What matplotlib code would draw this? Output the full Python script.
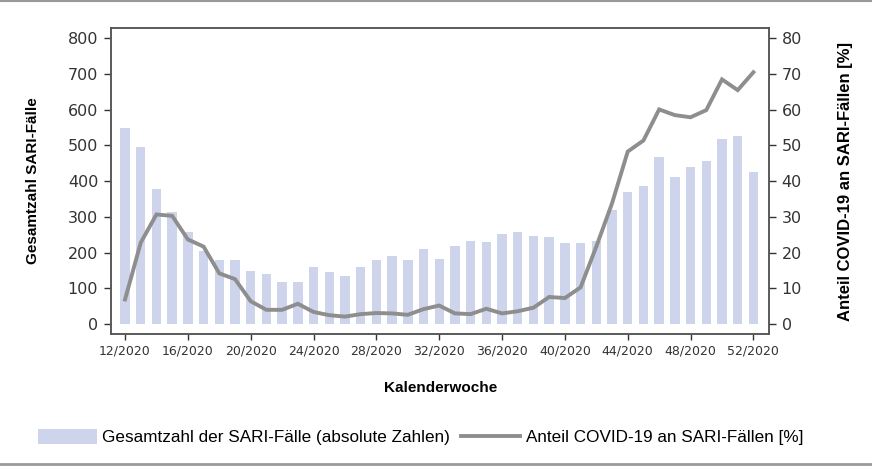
import matplotlib.pyplot as plt
from matplotlib.patches import Patch
from matplotlib.lines import Line2D

# Kalenderwochen 12/2020 bis 52/2020
wochen = list(range(12, 53))
sari_faelle = [550, 497, 379, 313, 257, 204, 179, 179, 149, 141,
               117, 117, 161, 146, 134, 161, 179, 192, 180, 210,
               183, 218, 232, 231, 251, 257, 246, 245, 226, 228,
               232, 319, 369, 388, 468, 412, 440, 456, 518, 527,
               425]
covid_anteil = [6.9, 22.8, 30.7, 30.3, 23.7, 21.7, 14.2, 12.6, 6.4, 4.0,
                4.0, 5.7, 3.4, 2.5, 2.1, 2.8, 3.1, 3.0, 2.6, 4.2,
                5.2, 3.0, 2.8, 4.3, 3.0, 3.6, 4.6, 7.6, 7.3, 10.3,
                21.7, 33.8, 48.3, 51.4, 60.1, 58.5, 57.9, 59.9, 68.5, 65.5,
                70.5]
tick_wochen = list(range(12, 53, 4))
tick_labels = [f"{w}/2020" for w in tick_wochen]

bar_farbe = '#cdd4ec'
linien_farbe = '#8e8e8e'
achsen_farbe = '#555555'

fig = plt.figure(figsize=(8.72, 4.66), dpi=100)
ax = fig.add_axes([0.127, 0.283, 0.755, 0.657])
ax2 = ax.twinx()

ax.bar(wochen, sari_faelle, width=0.6, color=bar_farbe, zorder=1)
ax2.plot(wochen, covid_anteil, color=linien_farbe, lw=2.8, solid_joinstyle='miter')

ax.set_xlim(11.09, 53.0)
ax.set_ylim(-28, 829)
ax2.set_ylim(-2.8, 82.9)
ax.set_yticks(range(0, 801, 100))
ax2.set_yticks(range(0, 81, 10))
ax.set_xticks(tick_wochen)
ax.set_xticklabels(tick_labels)

for a in (ax, ax2):
    for s in a.spines.values():
        s.set_color(achsen_farbe)
        s.set_linewidth(1.1)
    a.tick_params(colors='#333333', width=1, length=5, labelsize=11.5, direction='out')
ax.tick_params(axis='x', labelsize=9, length=4)
ax.tick_params(axis='y', pad=4)
ax2.tick_params(axis='y', pad=4)

ax.set_ylabel('Gesamtzahl SARI-Fälle', labelpad=20, family='Liberation Sans',
              fontweight='bold', fontsize=11)
ax2.set_ylabel('Anteil COVID-19 an SARI-Fällen [%]', labelpad=26, family='Liberation Sans',
               fontweight='bold', fontsize=12)
fig.text(0.505, 0.168, 'Kalenderwoche', ha='center', va='center',
         family='Liberation Sans', fontweight='bold', fontsize=11)

handles = [Patch(facecolor=bar_farbe, edgecolor='none'),
           Line2D([0], [0], color=linien_farbe, lw=2.8)]
fig.legend(handles, ['Gesamtzahl der SARI-Fälle (absolute Zahlen)',
                     'Anteil COVID-19 an SARI-Fällen [%]'],
           loc='center', bbox_to_anchor=(0.482, 0.062), ncol=2, frameon=False,
           prop={'family': 'Liberation Sans', 'size': 12.3},
           handlelength=3.45, handleheight=1.0, handletextpad=0.35, columnspacing=0.6)

# graue Rahmenlinien oben und unten
fig.add_artist(Line2D([0, 1], [0.998, 0.998], color='#999999', lw=1.5, transform=fig.transFigure))
fig.add_artist(Line2D([0, 1], [0.005, 0.005], color='#999999', lw=2, transform=fig.transFigure))

fig.savefig('out.png', dpi=100)
